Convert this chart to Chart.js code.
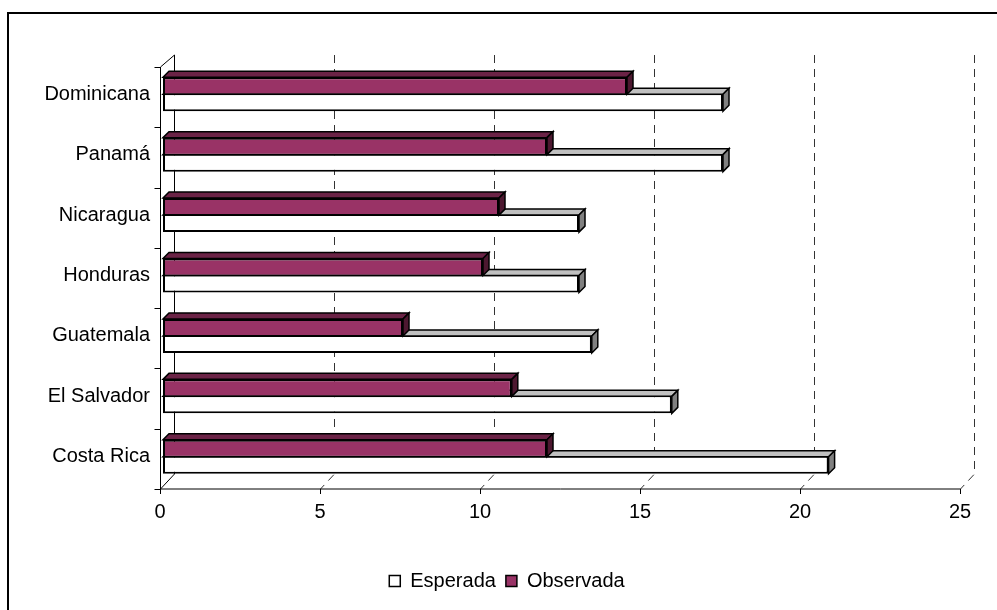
<!DOCTYPE html>
<html>
<head>
<meta charset="utf-8">
<script src="https://cdn.jsdelivr.net/npm/chart.js@4.4.1/dist/chart.umd.min.js"></script>
<style>
  html, body { margin: 0; padding: 0; background: #ffffff; }
  #wrap { width: 997px; height: 610px; position: relative; }
</style>
</head>
<body>
<div id="wrap"><canvas id="chart" width="997" height="610"></canvas></div>
<script>
// Categories, top to bottom
const countries = ['Dominicana', 'Panamá', 'Nicaragua', 'Honduras', 'Guatemala', 'El Salvador', 'Costa Rica'];
// Series values
const observada = [14.5, 12.0, 10.5, 10.0, 7.5, 10.9, 12.0];
const esperada  = [17.5, 17.5, 13.0, 13.0, 13.4, 15.9, 20.8];
// Value axis ticks
const xTicks = [0, 5, 10, 15, 20, 25];

const seriesNames = ['Observada', 'Esperada'];
const frontColors = ['#993366', '#ffffff'];
const topColors   = ['#6b2346', '#c0c0c0'];
const sideColors  = ['#4d1830', '#808080'];

const DEPTH = 6;          // extrusion of each bar
const BACK_DX = 11;       // back wall offset from the bar plane
const FRONT_DX = -3;      // front edge offset from the bar plane

Chart.defaults.font.family = '"Liberation Sans", Arial, sans-serif';
Chart.defaults.font.size = 20;
Chart.defaults.color = '#000000';

// Walls, gridlines, floor and bar extrusions for the pseudo-3D look
const depthPlugin = {
  id: 'depth3d',
  afterLayout(chart) {
    // centre the legend row under the plot rather than the full canvas
    const lg = chart.legend;
    if (lg) { lg.left = 51; lg.right = 963; }
  },
  beforeDraw(chart) {
    const ctx = chart.ctx;
    ctx.save();
    ctx.fillStyle = '#000000';
    ctx.fillRect(7, 12, 990, 2);
    ctx.fillRect(7, 12, 2, 598);
    ctx.restore();
  },
  beforeDatasetsDraw(chart) {
    const ctx = chart.ctx;
    const area = chart.chartArea;
    const xs = chart.scales.x;
    const frontTop = area.top + 3, frontBottom = area.bottom + 2;
    const backTop = area.top - 9, backBottom = area.bottom - 13;
    const fx = v => Math.round(xs.getPixelForValue(v) + FRONT_DX) + 0.5;
    const bx = v => Math.round(xs.getPixelForValue(v) + BACK_DX) + 0.5;
    ctx.save();

    // dashed back-wall gridlines running down onto the floor
    ctx.strokeStyle = '#333333';
    ctx.lineWidth = 1;
    ctx.setLineDash([8, 6]);
    xTicks.forEach(v => {
      if (v === 0) return;
      ctx.beginPath();
      ctx.moveTo(bx(v), backTop);
      ctx.lineTo(bx(v), backBottom);
      ctx.lineTo(fx(v), frontBottom);
      ctx.stroke();
    });
    ctx.setLineDash([]);

    // left wall
    ctx.strokeStyle = '#000000';
    ctx.beginPath();
    ctx.moveTo(fx(0), frontTop); ctx.lineTo(fx(0), frontBottom);
    ctx.moveTo(bx(0), backTop); ctx.lineTo(bx(0), backBottom);
    ctx.moveTo(fx(0), frontTop); ctx.lineTo(bx(0), backTop);
    ctx.moveTo(fx(0), frontBottom); ctx.lineTo(bx(0), backBottom);
    // front floor edge and value ticks
    ctx.moveTo(fx(0), frontBottom); ctx.lineTo(fx(xTicks[xTicks.length - 1]), frontBottom);
    xTicks.forEach(v => {
      ctx.moveTo(fx(v), frontBottom); ctx.lineTo(fx(v), frontBottom + 5);
    });
    // category ticks on the left axis
    const n = countries.length;
    for (let k = 0; k <= n; k++) {
      const y = Math.round(frontTop + k * (frontBottom - frontTop) / n) + 0.5;
      ctx.moveTo(fx(0) - 6, y); ctx.lineTo(fx(0), y);
    }
    ctx.stroke();
    ctx.restore();
  },
  afterDatasetDraw(chart, args) {
    const ctx = chart.ctx;
    const i = args.index;
    ctx.save();
    ctx.strokeStyle = '#000000';
    ctx.lineWidth = 1.5;
    ctx.lineJoin = 'miter';
    args.meta.data.forEach(bar => {
      const p = bar.getProps(['x', 'y', 'base', 'height'], true);
      const left = Math.min(p.base, p.x), right = Math.max(p.base, p.x);
      const top = p.y - p.height / 2, bottom = p.y + p.height / 2;
      // top face
      ctx.beginPath();
      ctx.moveTo(left, top);
      ctx.lineTo(left + DEPTH, top - DEPTH);
      ctx.lineTo(right + DEPTH, top - DEPTH);
      ctx.lineTo(right, top);
      ctx.closePath();
      ctx.fillStyle = topColors[i];
      ctx.fill();
      ctx.stroke();
      // end face
      ctx.beginPath();
      ctx.moveTo(right, top);
      ctx.lineTo(right + DEPTH, top - DEPTH);
      ctx.lineTo(right + DEPTH, bottom - DEPTH);
      ctx.lineTo(right, bottom);
      ctx.closePath();
      ctx.fillStyle = sideColors[i];
      ctx.fill();
      ctx.stroke();
    });
    ctx.restore();
  }
};

new Chart(document.getElementById('chart'), {
  type: 'bar',
  data: {
    labels: countries,
    datasets: [
      {
        label: seriesNames[0],
        data: observada,
        backgroundColor: frontColors[0],
        borderColor: '#000000',
        borderWidth: { top: 2, left: 2, right: 2, bottom: 1 },
        borderSkipped: false,
        categoryPercentage: 0.5627,
        barPercentage: 1.0
      },
      {
        label: seriesNames[1],
        data: esperada,
        backgroundColor: frontColors[1],
        borderColor: '#000000',
        borderWidth: { top: 1, left: 2, right: 2, bottom: 2 },
        borderSkipped: false,
        categoryPercentage: 0.5627,
        barPercentage: 1.0
      }
    ]
  },
  options: {
    indexAxis: 'y',
    responsive: false,
    devicePixelRatio: 1,
    animation: false,
    layout: { padding: { left: 0, right: 34, top: 64, bottom: 9 } },
    scales: {
      x: {
        type: 'linear',
        min: 0,
        max: 25,
        afterBuildTicks: scale => { scale.ticks = xTicks.map(v => ({ value: v })); },
        afterFit: scale => { scale.height = 74; },
        grid: { display: false, drawTicks: false },
        border: { display: false },
        ticks: { padding: 13, labelOffset: -3, color: '#000000', font: { size: 20 }, maxRotation: 0, autoSkip: false }
      },
      y: {
        afterFit: scale => { scale.width = 163; },
        grid: { display: false, drawTicks: false },
        border: { display: false },
        ticks: { padding: 13, color: '#000000', font: { size: 20 }, autoSkip: false }
      }
    },
    plugins: {
      legend: {
        position: 'bottom',
        labels: {
          boxWidth: 11,
          boxHeight: 11,
          padding: 10,
          color: '#000000',
          font: { size: 20 },
          generateLabels: chart => [1, 0].map(i => ({
            text: chart.data.datasets[i].label,
            fillStyle: frontColors[i],
            strokeStyle: '#000000',
            lineWidth: 1.5,
            hidden: false,
            datasetIndex: i
          }))
        }
      },
      tooltip: { enabled: false }
    }
  },
  plugins: [depthPlugin]
});
</script>
</body>
</html>
